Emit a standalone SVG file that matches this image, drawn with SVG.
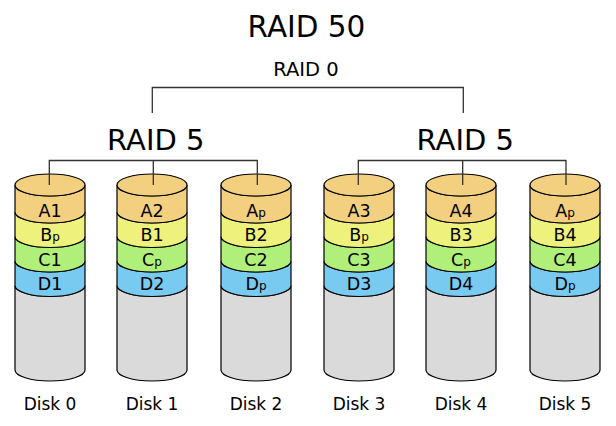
<svg xmlns="http://www.w3.org/2000/svg" xmlns:xlink="http://www.w3.org/1999/xlink" width="616" height="426" viewBox="0 0 616 426">
<style>
text{font-family:"DejaVu Sans","Liberation Sans",sans-serif;fill:#000;text-anchor:middle}
.t1{font-size:29.5px}
.t2{font-size:19.5px}
.t5{font-size:29px}
.lbl{font-size:17.5px}
.dl{font-size:17px}
.sub{font-size:12px}
.conn{fill:none;stroke:#333;stroke-width:1.3}
.cyl path,.cyl ellipse{stroke:#000;stroke-width:1.2}
.a{fill:#f3d07f}.b{fill:#eef27d}.c{fill:#b0f07a}.d{fill:#78caf1}.g{fill:#dadada}
</style>
<defs>
<g id="cyl" class="cyl">
<path class="g" d="M-35,285.5 V370 A35,11 0 0 0 35,370 V285.5 A35,11 0 0 1 -35,285.5 Z"/>
<path class="d" d="M-35,261 V285.5 A35,11 0 0 0 35,285.5 V261 A35,11 0 0 1 -35,261 Z"/>
<path class="c" d="M-35,236.5 V261 A35,11 0 0 0 35,261 V236.5 A35,11 0 0 1 -35,236.5 Z"/>
<path class="b" d="M-35,212 V236.5 A35,11 0 0 0 35,236.5 V212 A35,11 0 0 1 -35,212 Z"/>
<path class="a" d="M-35,185 V212 A35,11 0 0 0 35,212 V185 A35,11 0 0 1 -35,185 Z"/>
<ellipse class="a" cx="0" cy="185" rx="35" ry="11"/>
</g>
</defs>
<text class="t1" x="306.5" y="36.5">RAID 50</text>
<text class="t2" x="306" y="75.5">RAID 0</text>
<text class="t5" x="155.8" y="150">RAID 5</text>
<text class="t5" x="465.3" y="150">RAID 5</text>
<g id="disk0" transform="translate(50,0)"><use xlink:href="#cyl"/>
<text class="lbl" y="216.5">A1</text><text class="lbl" y="241">B<tspan class="sub">p</tspan></text><text class="lbl" y="265.5">C1</text><text class="lbl" y="290">D1</text><text class="dl" y="410">Disk 0</text></g>
<g id="disk1" transform="translate(152,0)"><use xlink:href="#cyl"/>
<text class="lbl" y="216.5">A2</text><text class="lbl" y="241">B1</text><text class="lbl" y="265.5">C<tspan class="sub">p</tspan></text><text class="lbl" y="290">D2</text><text class="dl" y="410">Disk 1</text></g>
<g id="disk2" transform="translate(256,0)"><use xlink:href="#cyl"/>
<text class="lbl" y="216.5">A<tspan class="sub">p</tspan></text><text class="lbl" y="241">B2</text><text class="lbl" y="265.5">C2</text><text class="lbl" y="290">D<tspan class="sub">p</tspan></text><text class="dl" y="410">Disk 2</text></g>
<g id="disk3" transform="translate(359,0)"><use xlink:href="#cyl"/>
<text class="lbl" y="216.5">A3</text><text class="lbl" y="241">B<tspan class="sub">p</tspan></text><text class="lbl" y="265.5">C3</text><text class="lbl" y="290">D3</text><text class="dl" y="410">Disk 3</text></g>
<g id="disk4" transform="translate(461,0)"><use xlink:href="#cyl"/>
<text class="lbl" y="216.5">A4</text><text class="lbl" y="241">B3</text><text class="lbl" y="265.5">C<tspan class="sub">p</tspan></text><text class="lbl" y="290">D4</text><text class="dl" y="410">Disk 4</text></g>
<g id="disk5" transform="translate(565,0)"><use xlink:href="#cyl"/>
<text class="lbl" y="216.5">A<tspan class="sub">p</tspan></text><text class="lbl" y="241">B4</text><text class="lbl" y="265.5">C4</text><text class="lbl" y="290">D<tspan class="sub">p</tspan></text><text class="dl" y="410">Disk 5</text></g>
<g id="connectors">
<path class="conn" d="M152.3,113 V87.5 H463.3 V113"/>
<path class="conn" d="M49.3,185 V160.5 H257.3 V185 M153.3,160.5 V185"/>
<path class="conn" d="M358.3,185 V160.5 H566 V185 M462.7,160.5 V185"/>
</g>
</svg>
